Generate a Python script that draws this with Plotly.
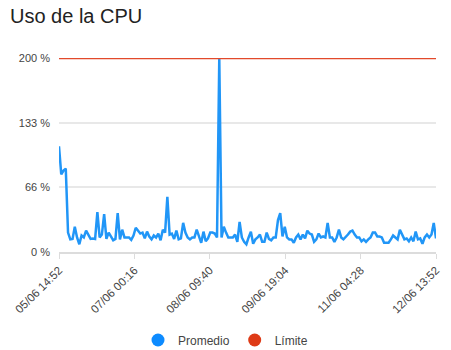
import pandas as pd
import plotly.graph_objects as go

# Hourly average CPU usage (%), 05/06 14:52 -> 12/06 13:52
start = "2023-06-05 14:52"
end = "2023-06-12 13:52"
promedio = [
    109, 80, 84, 86, 20, 13, 13.5, 26, 15, 8, 17, 15, 22, 18, 13.5, 14, 13.5, 41, 15, 18,
    39, 13.5, 20, 16, 12, 13.5, 40, 13, 23, 15, 15, 15, 12.5, 17, 25, 22, 19, 20, 14, 21,
    16, 13, 17, 15, 19, 12, 23, 20, 57, 18, 19, 13.5, 22, 13, 14, 30, 20, 15, 13, 15,
    15, 23, 15, 9.5, 21, 11, 14, 20, 20, 19, 15, 200, 15, 26, 20, 15,
    15, 15, 18, 10.5, 31, 15, 10.5, 8, 15, 21, 8.5, 13, 15, 18, 10.5, 10.5, 20, 13.5, 12, 15,
    15, 33, 40, 16, 26, 15, 13, 13, 9.5, 15, 18, 13, 18, 14, 22, 19, 18, 10.5, 13, 19,
    15, 16, 15, 30, 15, 15, 10.5, 15, 23, 15, 13, 15, 18, 21, 22, 18, 15, 15, 11, 13,
    10.5, 13, 15, 20, 20, 16, 16, 15, 9.5, 9.5, 9.5, 13, 17, 15, 13, 23, 18, 13, 14, 11,
    15, 11, 21, 13, 14, 8.5, 15, 18, 15, 18, 30, 14, 30,
]
limite_valor = 200

y_ticks = [0, 200 / 3, 400 / 3, 200]
y_tick_labels = ["0 %", "66 %", "133 %", "200 %"]

times = pd.date_range(start=start, periods=len(promedio), freq="h")
x_ticks = pd.date_range(start=start, end=end, periods=6)
x_tick_labels = [t.strftime("%d/%m %H:%M") for t in x_ticks]

BLUE_LINE = "#2196f7"
BLUE_DOT = "#0d8bff"
RED_LINE = "#e2492b"
RED_DOT = "#de3a16"
FONT = "Liberation Sans, Arial, sans-serif"

fig = go.Figure()
fig.add_trace(go.Scatter(
    x=times, y=promedio, mode="lines", name="Promedio",
    line=dict(color=BLUE_LINE, width=2.5), showlegend=False, cliponaxis=False,
))
fig.add_trace(go.Scatter(
    x=[times[0], times[-1]], y=[limite_valor, limite_valor], mode="lines", name="Límite",
    line=dict(color=RED_LINE, width=2.5), showlegend=False, cliponaxis=False,
))
# legend entries drawn as round dots
fig.add_trace(go.Scatter(
    x=[None], y=[None], mode="markers", name="Promedio",
    marker=dict(color=BLUE_DOT, size=13, symbol="circle"),
))
fig.add_trace(go.Scatter(
    x=[None], y=[None], mode="markers", name="Límite",
    marker=dict(color=RED_DOT, size=13, symbol="circle"),
))

fig.update_layout(
    width=451, height=350,
    margin=dict(l=59, r=10, t=58, b=96),
    paper_bgcolor="white", plot_bgcolor="white",
    font=dict(family=FONT, color="#444", size=11),
    title=dict(
        text="Uso de la CPU", font=dict(size=20, color="#222", family=FONT),
        xref="container", x=10 / 451, xanchor="left",
        yref="container", y=1 - 16 / 350, yanchor="middle",
    ),
    showlegend=True,
    legend=dict(
        orientation="h", xref="container", x=0.5, xanchor="center",
        yref="container", y=10 / 350, yanchor="middle",
        font=dict(size=12, color="#444"), itemwidth=30,
    ),
)
fig.update_xaxes(
    range=[times[0], pd.Timestamp(end)],
    tickvals=x_ticks, ticktext=x_tick_labels, tickangle=-45,
    showgrid=False, zeroline=False,
    showline=True, linecolor="#dcdcdc", linewidth=2,
    ticks="outside", ticklen=5, tickcolor="#dcdcdc", tickwidth=1,
    tickfont=dict(size=11.5, color="#444"),
)
fig.update_yaxes(
    range=[0, 200], tickvals=y_ticks, ticktext=y_tick_labels,
    showgrid=True, gridcolor="#e8e8e8", gridwidth=1.5, zeroline=False,
    showline=False, ticks="", ticklabelstandoff=8,
    tickfont=dict(size=11, color="#444"),
)

fig.write_html("out.html")
